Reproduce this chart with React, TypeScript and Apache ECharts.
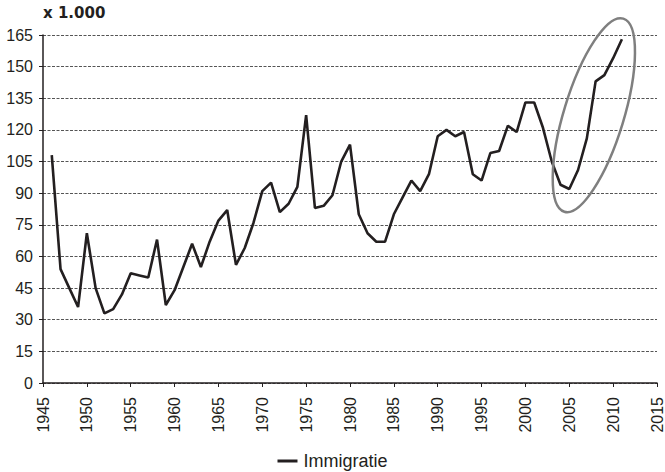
import React, { useEffect, useRef } from "react";
import * as echarts from "echarts";

const years: number[] = [
  1946, 1947, 1948, 1949, 1950, 1951, 1952, 1953, 1954, 1955, 1956, 1957, 1958, 1959,
  1960, 1961, 1962, 1963, 1964, 1965, 1966, 1967, 1968, 1969, 1970, 1971, 1972, 1973,
  1974, 1975, 1976, 1977, 1978, 1979, 1980, 1981, 1982, 1983, 1984, 1985, 1986, 1987,
  1988, 1989, 1990, 1991, 1992, 1993, 1994, 1995, 1996, 1997, 1998, 1999, 2000, 2001,
  2002, 2003, 2004, 2005, 2006, 2007, 2008, 2009, 2010, 2011,
];
const immigration: number[] = [
  108, 54, 45, 36, 71, 45, 33, 35, 42, 52, 51, 50, 68, 37,
  44, 55, 66, 55, 67, 77, 82, 56, 64, 76, 91, 95, 81, 85,
  93, 127, 83, 84, 89, 105, 113, 80, 71, 67, 67, 80, 88, 96,
  91, 99, 117, 120, 117, 119, 99, 96, 109, 110, 122, 119, 133, 133,
  121, 105, 94, 92, 101, 116, 143, 146, 154, 163,
];
const seriesName = "Immigratie";
const unitLabel = "x 1.000";
// highlighted region centre (data coords)
const highlightCenter: [number, number] = [2007.8, 127];

const FONT = "'Liberation Sans', Arial, sans-serif";

export default function App() {
  const ref = useRef<HTMLDivElement>(null);
  useEffect(() => {
    if (!ref.current) return;
    const chart = echarts.init(ref.current, undefined, { renderer: "svg" });
    const data = years.map((y, i) => [y, immigration[i]]);
    const titleText = {
      type: "text",
      left: 43,
      top: 5,
      style: {
        text: unitLabel,
        fontFamily: "'DejaVu Sans', sans-serif",
        fontWeight: "bold",
        fontSize: 15,
        fill: "#231f20",
      },
    };
    chart.setOption({
      animation: false,
      grid: { left: 43, right: 8, top: 35, bottom: 89, containLabel: false },
      legend: {
        top: 452,
        left: "center",
        padding: 0,
        icon: "rect",
        itemWidth: 20,
        itemHeight: 3,
        textStyle: { fontFamily: FONT, fontSize: 18, color: "#231f20", padding: [0, 0, 0, 1] },
        data: [seriesName],
      },
      xAxis: {
        type: "value",
        min: 1945,
        max: 2015,
        interval: 5,
        axisLine: { show: true, onZero: false, lineStyle: { color: "#231f20", width: 1.5 } },
        axisTick: { show: true, length: 4, lineStyle: { color: "#231f20" } },
        axisLabel: {
          rotate: 90,
          fontFamily: FONT,
          fontSize: 16,
          color: "#231f20",
          margin: 14,
          formatter: (v: number) => String(v),
        },
        splitLine: { show: false },
      },
      yAxis: {
        type: "value",
        min: 0,
        max: 165,
        interval: 15,
        axisLine: { show: true, lineStyle: { color: "#231f20", width: 1.5 } },
        axisTick: { show: true, length: 4, lineStyle: { color: "#231f20" } },
        axisLabel: { fontFamily: FONT, fontSize: 16, color: "#231f20", margin: 10 },
        splitLine: { show: true, lineStyle: { color: "#555", width: 1, type: [3, 1.5] } },
      },
      series: [
        {
          name: seriesName,
          type: "line",
          data,
          symbol: "none",
          lineStyle: { color: "#231f20", width: 2.6 },
          itemStyle: { color: "#231f20" },
        },
      ],
      graphic: [titleText],
    });
    const c = chart.convertToPixel({ gridIndex: 0 }, highlightCenter) as number[];
    chart.setOption({
      graphic: [
        titleText,
        {
          type: "ellipse",
          x: c[0],
          y: c[1],
          rotation: -17 * Math.PI / 180,
          shape: { cx: 0, cy: 0, rx: 30, ry: 101 },
          style: { fill: "none", stroke: "#7f7f7f", lineWidth: 2.5 },
          z: 10,
        },
      ],
    });
    return () => chart.dispose();
  }, []);
  return <div ref={ref} style={{ width: 665, height: 472, position: "absolute", left: 0, top: 0 }} />;
}
